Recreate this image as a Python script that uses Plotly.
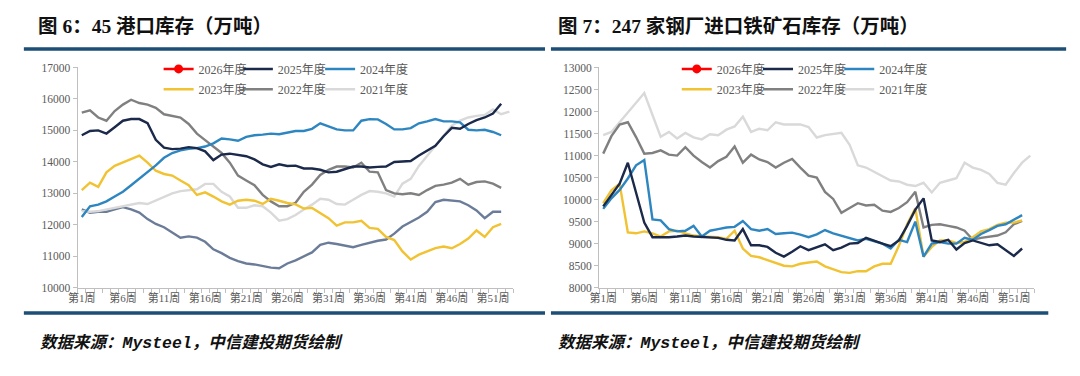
import plotly.graph_objects as go

# ---------------- data ----------------
weeks = list(range(1, 54))
tick_weeks = [1, 6, 11, 16, 21, 26, 31, 36, 41, 46, 51]
tick_labels = ["第%d周" % w for w in tick_weeks]

# 图6: 45港口库存（万吨）  (2026: no weekly data plotted yet)
port_2026 = [None]
port_2025 = [14846, 14980, 15000, 14900, 15100, 15308, 15360, 15360, 15230, 14700,
             14450, 14405, 14420, 14467, 14436, 14333, 14056, 14230, 14260, 14230,
             14180, 14077, 13923, 13840, 13923, 13870, 13880, 13790, 13790, 13749,
             13667, 13687, 13769, 13851, 13851, 13820, 13840, 13851, 13995, 14015,
             14026, 14200, 14364, 14508, 14815, 15082, 15051, 15205, 15328, 15410,
             15533, 15850]
port_2024 = [12250, 12590, 12640, 12744, 12900, 13050, 13256, 13460, 13667, 13890,
             14128, 14282, 14364, 14415, 14436, 14487, 14590, 14744, 14713, 14672,
             14795, 14846, 14867, 14897, 14877, 14918, 14980, 14980, 15051, 15226,
             15123, 15031, 15000, 15000, 15308, 15359, 15349, 15205, 15031, 15031,
             15072, 15226, 15287, 15359, 15287, 15287, 15256, 15021, 15000, 15021,
             14949, 14846]
port_2023 = [13103, 13338, 13205, 13667, 13872, 13974, 14077, 14200, 13974, 13718,
             13615, 13564, 13410, 13256, 12949, 13031, 12897, 12744, 12641, 12764,
             12795, 12764, 12662, 12826, 12764, 12692, 12650, 12518, 12538, 12385,
             12210, 11974, 12077, 12077, 12128, 11903, 11872, 11615, 11513, 11154,
             10897, 11051, 11154, 11256, 11308, 11256, 11390, 11564, 11820, 11615,
             11923, 12026]
port_2022 = [15564, 15636, 15410, 15308, 15615, 15820, 15974, 15870, 15820, 15718,
             15513, 15460, 15410, 15205, 14897, 14690, 14487, 14282, 13974, 13564,
             13410, 13256, 12950, 12744, 12590, 12590, 12700, 13051, 13277, 13585,
             13749, 13851, 13851, 13820, 13974, 13687, 13667, 13103, 13000, 12969,
             13000, 12949, 13103, 13236, 13277, 13338, 13462, 13277, 13359, 13380,
             13308, 13174]
port_2021 = [12436, 12415, 12436, 12487, 12540, 12590, 12640, 12690, 12660, 12770,
             12900, 13000, 13070, 13100, 13130, 13300, 13300, 13050, 12900, 12540,
             12540, 12620, 12590, 12385, 12130, 12180, 12310, 12487, 12641, 12826,
             12795, 12662, 12641, 12795, 12949, 13072, 13051, 13000, 12897, 13308,
             13462, 13872, 14200, 14508, 14846, 15154, 15308, 15410, 15462, 15492,
             15667, 15513, 15595]
port_2020 = [12487, 12385, 12415, 12415, 12487, 12560, 12487, 12385, 12180, 12026,
             11923, 11770, 11590, 11630, 11590, 11460, 11220, 11100, 10950, 10846,
             10770, 10740, 10690, 10640, 10620, 10770, 10870, 11000, 11123, 11359,
             11431, 11390, 11328, 11287, 11359, 11431, 11492, 11533, 11718, 11944,
             12077, 12231, 12415, 12723, 12795, 12764, 12744, 12621, 12456, 12210,
             12415, 12415]

# 图7: 247家钢厂进口铁矿石库存（万吨）
mill_2026 = [None]
mill_2025 = [9846, 10103, 10360, 10838, 10176, 9478, 9147, 9140, 9147, 9162,
             9184, 9162, 9147, 9132, 9132, 9088, 9074, 9331, 8963, 8963,
             8926, 8794, 8706, 8816, 8941, 8853, 8912, 8985, 8853, 8912,
             9000, 9015, 9132, 9059, 9000, 8941, 9074, 9404, 9772, 10029,
             9074, 9037, 9088, 8868, 9015, 9074, 9015, 8963, 8985, 8853,
             8721, 8890]
mill_2024 = [9790, 10029, 10220, 10480, 10780, 10900, 9551, 9529, 9331, 9279,
             9294, 9404, 9162, 9294, 9331, 9368, 9382, 9515, 9331, 9294,
             9331, 9221, 9235, 9250, 9206, 9147, 9210, 9309, 9235, 9184,
             9132, 9074, 9110, 9059, 9000, 8890, 9088, 9037, 9500, 8706,
             9000, 9037, 9000, 9000, 9132, 9088, 9221, 9309, 9404, 9441,
             9551, 9647]
mill_2023 = [9919, 10213, 10360, 9257, 9235, 9279, 9235, 9162, 9279, 9294,
             9235, 9184, 9162, 9162, 9147, 9110, 9294, 8890, 8720, 8691,
             8632, 8559, 8500, 8485, 8544, 8573, 8596, 8485, 8412, 8353,
             8338, 8375, 8375, 8485, 8544, 8544, 8950, 9440, 9800, 8706,
             8926, 9074, 9074, 9015, 9037, 9147, 9279, 9331, 9426, 9478,
             9478, 9529]
mill_2022 = [11044, 11441, 11706, 11757, 11420, 11044, 11059, 11118, 11022, 11000,
             11191, 11000, 10853, 10728, 10875, 10971, 11206, 10838, 11022, 10912,
             10853, 10728, 10838, 10926, 10728, 10544, 10500, 10176, 10015, 9699,
             9809, 9919, 9868, 9882, 9750, 9721, 9809, 9941, 10176, 9368,
             9426, 9441, 9404, 9368, 9294, 9088, 9132, 9162, 9184, 9257,
             9441, 9515]
mill_2021 = [11463, 11537, 11757, 11978, 12199, 12420, 11920, 11426, 11537, 11390,
             11515, 11412, 11368, 11485, 11463, 11588, 11662, 11882, 11537, 11610,
             11574, 11757, 11706, 11706, 11706, 11647, 11410, 11463, 11485, 11515,
             11243, 10779, 10728, 10632, 10544, 10434, 10412, 10338, 10309, 10382,
             10162, 10382, 10434, 10485, 10838, 10728, 10676, 10581, 10382, 10338,
             10603, 10838, 11000]

# ---------------- styles ----------------
colors = {
    "2026年度": "#FF0000",
    "2025年度": "#1B2A4A",
    "2024年度": "#2E86C1",
    "2023年度": "#F1C232",
    "2022年度": "#808080",
    "2021年度": "#D9D9D9",
    "2020年度": "#6B7C99",
}
LW = 2.4
W, H = 1080, 376
SERIF = "Times New Roman, Liberation Serif, Noto Sans CJK SC"
AXIS_COLOR = "#BFBFBF"
TEXT_COLOR = "#595959"
BAR_COLOR = "#1D4E75"


def px_x(p):
    return p / W


def px_y(p):
    return (H - p) / H


# legend slot for each (panel, series): (column x of line start, row y)
LEG_COL = {"left": [160, 240, 323], "right": [683, 765, 847]}
LEG_ROW = [65, 86]
LEG_SLOT = {"2026年度": (0, 0), "2025年度": (0, 1), "2024年度": (0, 2),
            "2023年度": (1, 0), "2022年度": (1, 1), "2021年度": (1, 2)}

fig = go.Figure()
legend_defs = {}


def add(name, vals, panel, showlegend=True):
    xa, ya = ("x", "y") if panel == "left" else ("x2", "y2")
    is_new = name == "2026年度"
    leg = "legend"
    if showlegend:
        idx = len(legend_defs) + 1
        leg = "legend" if idx == 1 else "legend%d" % idx
        r, c = LEG_SLOT[name]
        legend_defs[leg] = dict(
            x=px_x(LEG_COL[panel][c] - 10), y=px_y(LEG_ROW[r]),
            xanchor="left", yanchor="middle", orientation="h",
            bgcolor="rgba(0,0,0,0)", itemwidth=30,
            font=dict(family=SERIF, size=12, color=TEXT_COLOR),
        )
    fig.add_trace(go.Scatter(
        x=weeks[:len(vals)], y=vals, name=name,
        mode="lines+markers" if is_new else "lines",
        line=dict(color=colors[name], width=LW),
        marker=dict(color=colors[name], size=9),
        xaxis=xa, yaxis=ya, legend=leg, showlegend=showlegend,
        hoverinfo="skip",
    ))


# left panel (drawn oldest first)
add("2020年度", port_2020, "left", showlegend=False)
add("2021年度", port_2021, "left")
add("2022年度", port_2022, "left")
add("2023年度", port_2023, "left")
add("2024年度", port_2024, "left")
add("2025年度", port_2025, "left")
add("2026年度", port_2026, "left")
# right panel
add("2021年度", mill_2021, "right")
add("2022年度", mill_2022, "right")
add("2023年度", mill_2023, "right")
add("2024年度", mill_2024, "right")
add("2025年度", mill_2025, "right")
add("2026年度", mill_2026, "right")

xcommon = dict(
    range=[0.5, 53.5], tickmode="array", tickvals=tick_weeks, ticktext=tick_labels,
    ticks="",
    showline=True, linecolor=AXIS_COLOR, linewidth=1,
    showgrid=False, zeroline=False,
    minor=dict(ticks="outside", tick0=0.5, dtick=1, ticklen=4, tickcolor=AXIS_COLOR, tickwidth=1, showgrid=False),
    tickfont=dict(family=SERIF, size=11, color=TEXT_COLOR),
    fixedrange=True,
)
ycommon = dict(
    ticks="outside", ticklen=4, tickcolor=AXIS_COLOR, tickformat="d",
    showline=True, linecolor=AXIS_COLOR, linewidth=1,
    showgrid=False, zeroline=False,
    tickfont=dict(family=SERIF, size=11.5, color=TEXT_COLOR),
    fixedrange=True,
)

ytop, ybot = 63.5, 291
fig.update_layout(
    width=W, height=H,
    margin=dict(l=0, r=0, t=0, b=0),
    paper_bgcolor="white", plot_bgcolor="white",
    xaxis=dict(domain=[px_x(68.3), px_x(508.2)], anchor="y", **xcommon),
    yaxis=dict(domain=[px_y(ybot), px_y(ytop)], anchor="x", range=[10000, 17000], dtick=1000, **ycommon),
    xaxis2=dict(domain=[px_x(594.6), px_x(1034)], anchor="y2", **xcommon),
    yaxis2=dict(domain=[px_y(ybot), px_y(ytop)], anchor="x2", range=[8000, 13000], dtick=500, **ycommon),
    **legend_defs,
)

# titles, rules, sources
TITLE_FONT = dict(family="Liberation Serif, Noto Sans CJK SC", size=19.5, color="#111111")
SRC_FONT = dict(family="Liberation Mono, Noto Sans CJK SC", size=16.5, color="#111111", style="italic", weight="bold")


def note(text, x, y, font):
    fig.add_annotation(text=text, x=px_x(x), y=px_y(y), xref="paper", yref="paper",
                       xanchor="left", yanchor="middle", align="left",
                       showarrow=False, font=font, borderpad=0)


note("<b>图 6：45 港口库存（万吨）</b>", 27, 21, TITLE_FONT)
note("<b>图 7：247 家钢厂进口铁矿石库存（万吨）</b>", 552, 21, TITLE_FONT)
note("数据来源：Mysteel，中信建投期货绘制", 29, 348, SRC_FONT)
note("数据来源：Mysteel，中信建投期货绘制", 552, 348, SRC_FONT)

for (x0, x1, yy) in [(14, 540, 44.5), (546, 1066, 44.5), (14, 540, 317), (546, 1048, 317)]:
    fig.add_shape(type="line", xref="paper", yref="paper",
                  x0=px_x(x0), x1=px_x(x1), y0=px_y(yy), y1=px_y(yy),
                  line=dict(color=BAR_COLOR, width=3.5))

fig.write_html("out.html", config={"displayModeBar": False, "staticPlot": True},
               post_script="document.body.style.margin='0';document.body.style.overflow='hidden';")
